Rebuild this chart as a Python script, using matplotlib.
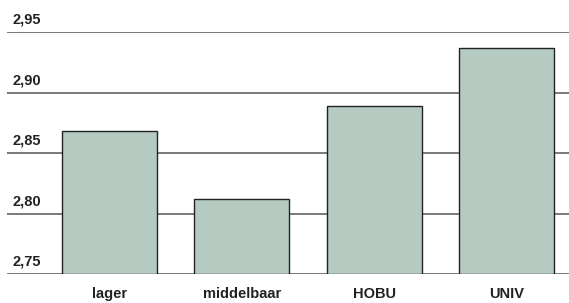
import matplotlib.pyplot as plt
from matplotlib import font_manager

# data
categories = ["lager", "middelbaar", "HOBU", "UNIV"]
values = [2.868, 2.812, 2.889, 2.937]
y_ticks = [2.75, 2.80, 2.85, 2.90, 2.95]
y_labels = ["2,75", "2,80", "2,85", "2,90", "2,95"]

names = {f.name for f in font_manager.fontManager.ttflist}
family = "Liberation Sans Narrow" if "Liberation Sans Narrow" in names else "Liberation Sans"
plt.rcParams['font.family'] = [family, 'DejaVu Sans']

fig = plt.figure(figsize=(5.69, 3.03), dpi=100)
ax = fig.add_axes([7 / 569, 1 - 274 / 303, 562 / 569, (274 - 32.3) / 303])

# horizontal rules, drawn under the bars
for t in y_ticks:
    ax.axhline(t, color="#555555", lw=1.1, zorder=1)

x = range(len(categories))
ax.bar(x, [v - 2.75 for v in values], bottom=2.75, width=0.717,
       color="#b5cbc1", edgecolor="#222222", linewidth=1.0, zorder=2)

ax.set_xlim(-0.774, 3.472)
ax.set_ylim(2.75, 2.95)
ax.axis("off")

# value labels sit just above each rule at the left edge
for t, lab in zip(y_ticks, y_labels):
    ax.annotate(lab, xy=(0, t), xycoords=("axes fraction", "data"),
                xytext=(4, 4), textcoords="offset points",
                ha="left", va="bottom", fontsize=10.5, fontweight="bold",
                color="#222222")

for i, c in enumerate(categories):
    ax.annotate(c, xy=(i, 2.75), xycoords="data",
                xytext=(0, -14.5), textcoords="offset points",
                ha="center", va="center", fontsize=10.5, fontweight="bold",
                color="#222222")

fig.savefig("out.png", dpi=100)
